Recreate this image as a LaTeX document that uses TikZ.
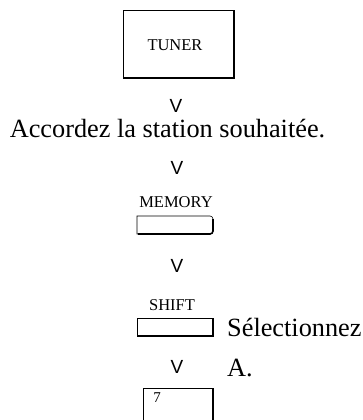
\documentclass[tikz,border=0pt]{standalone}
\usepackage{fontspec}
\setmainfont{Liberation Serif}
\newfontfamily\vfont{Liberation Sans}
\usepackage{tikz}

\begin{document}
\begin{tikzpicture}[x=1pt,y=-1pt,
    key/.style={draw=black, line width=0.6pt},
    keyshade/.style={draw=black, line width=1.6pt},
    keylabel/.style={inner sep=0pt, font=\fontsize{16.5}{16.5}\selectfont},
    step sign/.style={inner sep=0pt, font=\vfont\fontsize{19}{19}\selectfont},
    say/.style={inner sep=0pt, font=\fontsize{26.3}{26.3}\selectfont}]
          \useasboundingbox (0,0) rectangle (363,420);
          \clip (0,0) rectangle (363,420);
          \coordinate (t1) at (123,10);
          \coordinate (t2) at (234,78);
          \coordinate (m1) at (137,216);
          \coordinate (m2) at (213,234);
          \coordinate (s1) at (137,318);
          \coordinate (s2) at (213,336);
          \coordinate (k1) at (143,388);
          \coordinate (k2) at (213,430);
          \draw[key] (t1) rectangle (t2);
          \draw[keyshade] (234,11) -- (234,78) -- (124,78);
          \node[keylabel] (tuner) at (175,45) {TUNER};
          \node[step sign] (v1) at (176,106) {V};
          \node[say, anchor=base] (tune) at (167.5,137) {Accordez la station souhaitée.};
          \node[step sign] (v2) at (177,168) {V};
          \node[keylabel] (memory) at (176,202) {MEMORY};
          \draw[key] (213,226) -- (213,231) arc (0:90:3) -- (137,234) -- (m1) -- (210,216) arc (-90:0:3) -- cycle;
          \draw[keyshade] (213,219) -- (213,231) arc (0:90:3) -- (138,234);
          \node[step sign] (v3) at (177,266) {V};
          \node[keylabel] (shift) at (172,305) {SHIFT};
          \draw[key] (s1) rectangle (s2);
          \draw[keyshade] (213,319) -- (s2) -- (138,336);
          \node[say, anchor=base west] (select) at (227,336) {Sélectionnez};
          \node[say, anchor=base west] (preset) at (227,376) {A.};
          \node[step sign] (v4) at (177,367) {V};
          \draw[key] (k1) rectangle (k2);
          \draw[keyshade] (213,389) -- (213,430);
          \node[keylabel, font=\fontsize{15}{15}\selectfont] (seven) at (157,398) {7};
        \end{tikzpicture}
\end{document}
